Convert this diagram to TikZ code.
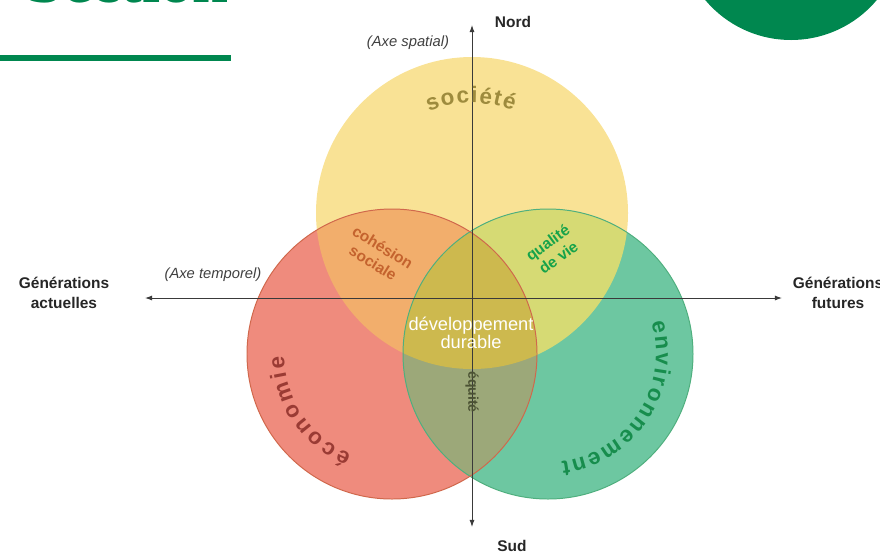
\documentclass[tikz,border=0pt]{standalone}
\usepackage{fontspec}
\setmainfont{Liberation Sans}
\newfontfamily\titlefont{Liberation Serif}
\usepackage{xcolor}
\usetikzlibrary{arrows.meta,decorations.text}

\definecolor{titlegreen}{HTML}{00874F}
\definecolor{socyellow}{HTML}{F9E295}
\definecolor{ecored}{HTML}{EF8B7D}
\definecolor{envgreen}{HTML}{6DC7A1}
\definecolor{cohorange}{HTML}{F2AE6C}
\definecolor{qualgreen}{HTML}{D6DA74}
\definecolor{equiolive}{HTML}{9CA879}
\definecolor{durolive}{HTML}{CDB94E}
\definecolor{ecoline}{HTML}{D0684C}
\definecolor{envline}{HTML}{4FAF7E}
\definecolor{soctext}{HTML}{9E8B3D}
\definecolor{ecotext}{HTML}{9A3B34}
\definecolor{envtext}{HTML}{178D4D}
\definecolor{cohtext}{HTML}{C4632E}
\definecolor{qualtext}{HTML}{16A34A}
\definecolor{equitext}{HTML}{4B5233}
\definecolor{axisgray}{HTML}{3A3A3A}

\begin{document}
\begin{tikzpicture}[x=0.025cm, y=0.025cm,
    axis/.style={draw=axisgray, line width=0.6pt, {Latex[length=5pt,width=3.5pt]}-{Latex[length=5pt,width=3.5pt]}},
    axislabel/.style={font=\fontsize{11}{14}\selectfont\bfseries, align=center, text=black!85, inner sep=0pt},
    axisname/.style={font=\fontsize{10.5}{12}\selectfont\itshape, text=black!75, inner sep=0pt},
    lens/.style={font=\fontsize{11}{13}\selectfont\bfseries, align=center, inner sep=0pt},
    arclabel/.style={decorate, decoration={text along path, text align={fit to path}, text={#1}}}]
    \clip (0,0) rectangle (880,-555);

    % Page header
    \fill[titlegreen] (791,72) circle[radius=112];
    \fill[titlegreen] (0,-55) rectangle (231,-61);
    \node[anchor=base west, inner sep=0pt, text=titlegreen, font=\titlefont\fontsize{46}{46}\selectfont\bfseries] (title) at (27,-2) {Section};

    % Circles
    \coordinate (soc) at (472,-213);
    \coordinate (eco) at (392,-354);
    \coordinate (env) at (548,-354);
    \fill[socyellow] (soc) circle[radius=156];
    \fill[ecored] (eco) circle[radius=145];
    \fill[envgreen] (env) circle[radius=145];

    % Overlaps
    \begin{scope}
        \clip (soc) circle[radius=156];
        \fill[cohorange] (eco) circle[radius=145];
        \fill[qualgreen] (env) circle[radius=145];
    \end{scope}
    \begin{scope}
        \clip (eco) circle[radius=145];
        \fill[equiolive] (env) circle[radius=145];
        \clip (soc) circle[radius=156];
        \fill[durolive] (env) circle[radius=145];
    \end{scope}
    \draw[envline, line width=0.7pt] (env) circle[radius=145];
    \draw[ecoline, line width=0.7pt] (eco) circle[radius=145];

    % Axes
    \coordinate (north) at (472,-25);
    \coordinate (south) at (472,-527);
    \coordinate (west) at (145,-298);
    \coordinate (east) at (782,-298);
    \draw[axis] (south) -- (north);
    \draw[axis] (west) -- (east);

    % Axis labels
    \node[axislabel] (nord) at (513,-22) {Nord};
    \node[axislabel] (sud) at (512,-546) {Sud};
    \node[axisname] (spatial) at (408,-43) {(Axe spatial)};
    \node[axisname] (temporel) at (213,-275) {(Axe temporel)};
    \node[axislabel] (actuelles) at (64,-293) {Générations\\actuelles};
    \node[axislabel] (futures) at (838,-293) {Générations\\futures};

    % Circle labels
    \path[arclabel={|\fontsize{16}{16}\selectfont\bfseries\color{soctext}|société}]
        (soc) ++(113:110) arc[start angle=113, end angle=68, radius=110];
    \path[arclabel={|\fontsize{16}{16}\selectfont\bfseries\color{ecotext}|économie}]
        (eco) ++(248:108) arc[start angle=248, end angle=181, radius=108];
    \path[arclabel={|\fontsize{16}{16}\selectfont\bfseries\color{envtext}|environnement}]
        (env) ++(17:108) arc[start angle=17, end angle=-83, radius=108];

    % Lens labels
    \node[lens, text=cohtext, rotate=-32] (cohesion) at (378,-255) {cohésion\\sociale};
    \node[lens, text=qualtext, rotate=36, font=\fontsize{11}{13}\selectfont\bfseries] (qualite) at (553,-250) {qualité\\de vie};
    \node[lens, text=equitext, rotate=-90, font=\fontsize{10}{11}\selectfont\bfseries] (equite) at (472,-392) {équité};
    \node[align=center, text=white, inner sep=0pt, font=\fontsize{13}{12.5}\selectfont] (durable) at (471,-333) {développement\\durable};
\end{tikzpicture}
\end{document}
